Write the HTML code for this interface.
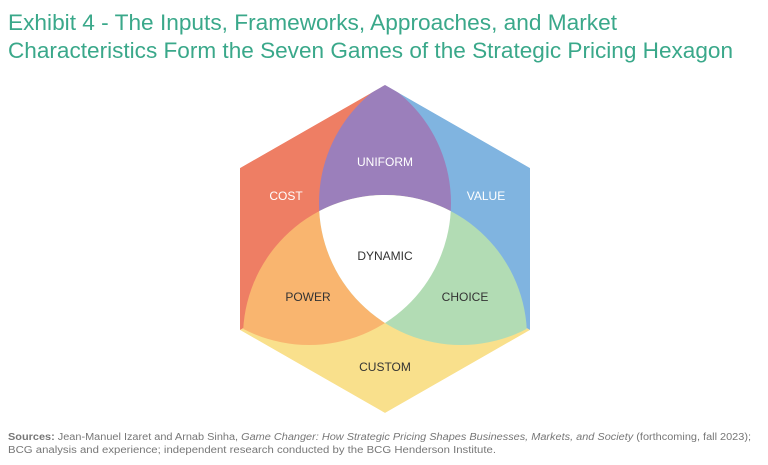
<!DOCTYPE html>
<html><head><meta charset="utf-8"><style>
html,body{margin:0;padding:0;background:#fff;}
svg{display:block;font-family:"Liberation Sans",sans-serif;}
</style></head><body>
<svg width="768" height="465" viewBox="0 0 768 465" xmlns="http://www.w3.org/2000/svg">
<defs>
<clipPath id="hex"><polygon points="385,85 530,168 530,330 385,413 240,330 240,168"/></clipPath>
<clipPath id="cL"><circle cx="309" cy="203" r="142"/></clipPath>
<clipPath id="cR"><circle cx="461" cy="203" r="142"/></clipPath>
<clipPath id="cLB" clip-path="url(#cL)"><circle cx="385" cy="337" r="142"/></clipPath>
</defs>
<text x="8" y="30" font-size="22" fill="#3aa88a" textLength="609" lengthAdjust="spacingAndGlyphs">Exhibit 4 - The Inputs, Frameworks, Approaches, and Market</text>
<text x="8" y="58" font-size="22" fill="#3aa88a" textLength="725" lengthAdjust="spacingAndGlyphs">Characteristics Form the Seven Games of the Strategic Pricing Hexagon</text>
<g clip-path="url(#hex)">
<polygon points="385,249 385,85 240,168 240,330" fill="#ee7e64"/>
<polygon points="385,249 385,85 530,168 530,330" fill="#80b4e0"/>
<polygon points="385,249 240,330 385,413 530,330" fill="#f9e08c"/>
<g clip-path="url(#cL)"><circle cx="461" cy="203" r="142" fill="#9b7fbb"/></g>
<g clip-path="url(#cL)"><circle cx="385" cy="337" r="142" fill="#f9b56f"/></g>
<g clip-path="url(#cR)"><circle cx="385" cy="337" r="142" fill="#b2dcb4"/></g>
<g clip-path="url(#cLB)"><circle cx="461" cy="203" r="142" fill="#ffffff"/></g>
</g>
<g font-size="12" text-anchor="middle">
<text x="385" y="166" fill="#fff">UNIFORM</text>
<text x="286" y="200" fill="#fff">COST</text>
<text x="486" y="200" fill="#fff">VALUE</text>
<text x="385" y="260" fill="#333">DYNAMIC</text>
<text x="308" y="301" fill="#333">POWER</text>
<text x="465" y="301" fill="#333">CHOICE</text>
<text x="385" y="371" fill="#333">CUSTOM</text>
</g>
<text x="8" y="440" font-size="10" fill="#777" textLength="743" lengthAdjust="spacingAndGlyphs"><tspan font-weight="bold">Sources:</tspan> Jean-Manuel Izaret and Arnab Sinha, <tspan font-style="italic">Game Changer: How Strategic Pricing Shapes Businesses, Markets, and Society</tspan> (forthcoming, fall 2023);</text>
<text x="8" y="453" font-size="10" fill="#777" textLength="488" lengthAdjust="spacingAndGlyphs">BCG analysis and experience; independent research conducted by the BCG Henderson Institute.</text>
</svg>
</body></html>
